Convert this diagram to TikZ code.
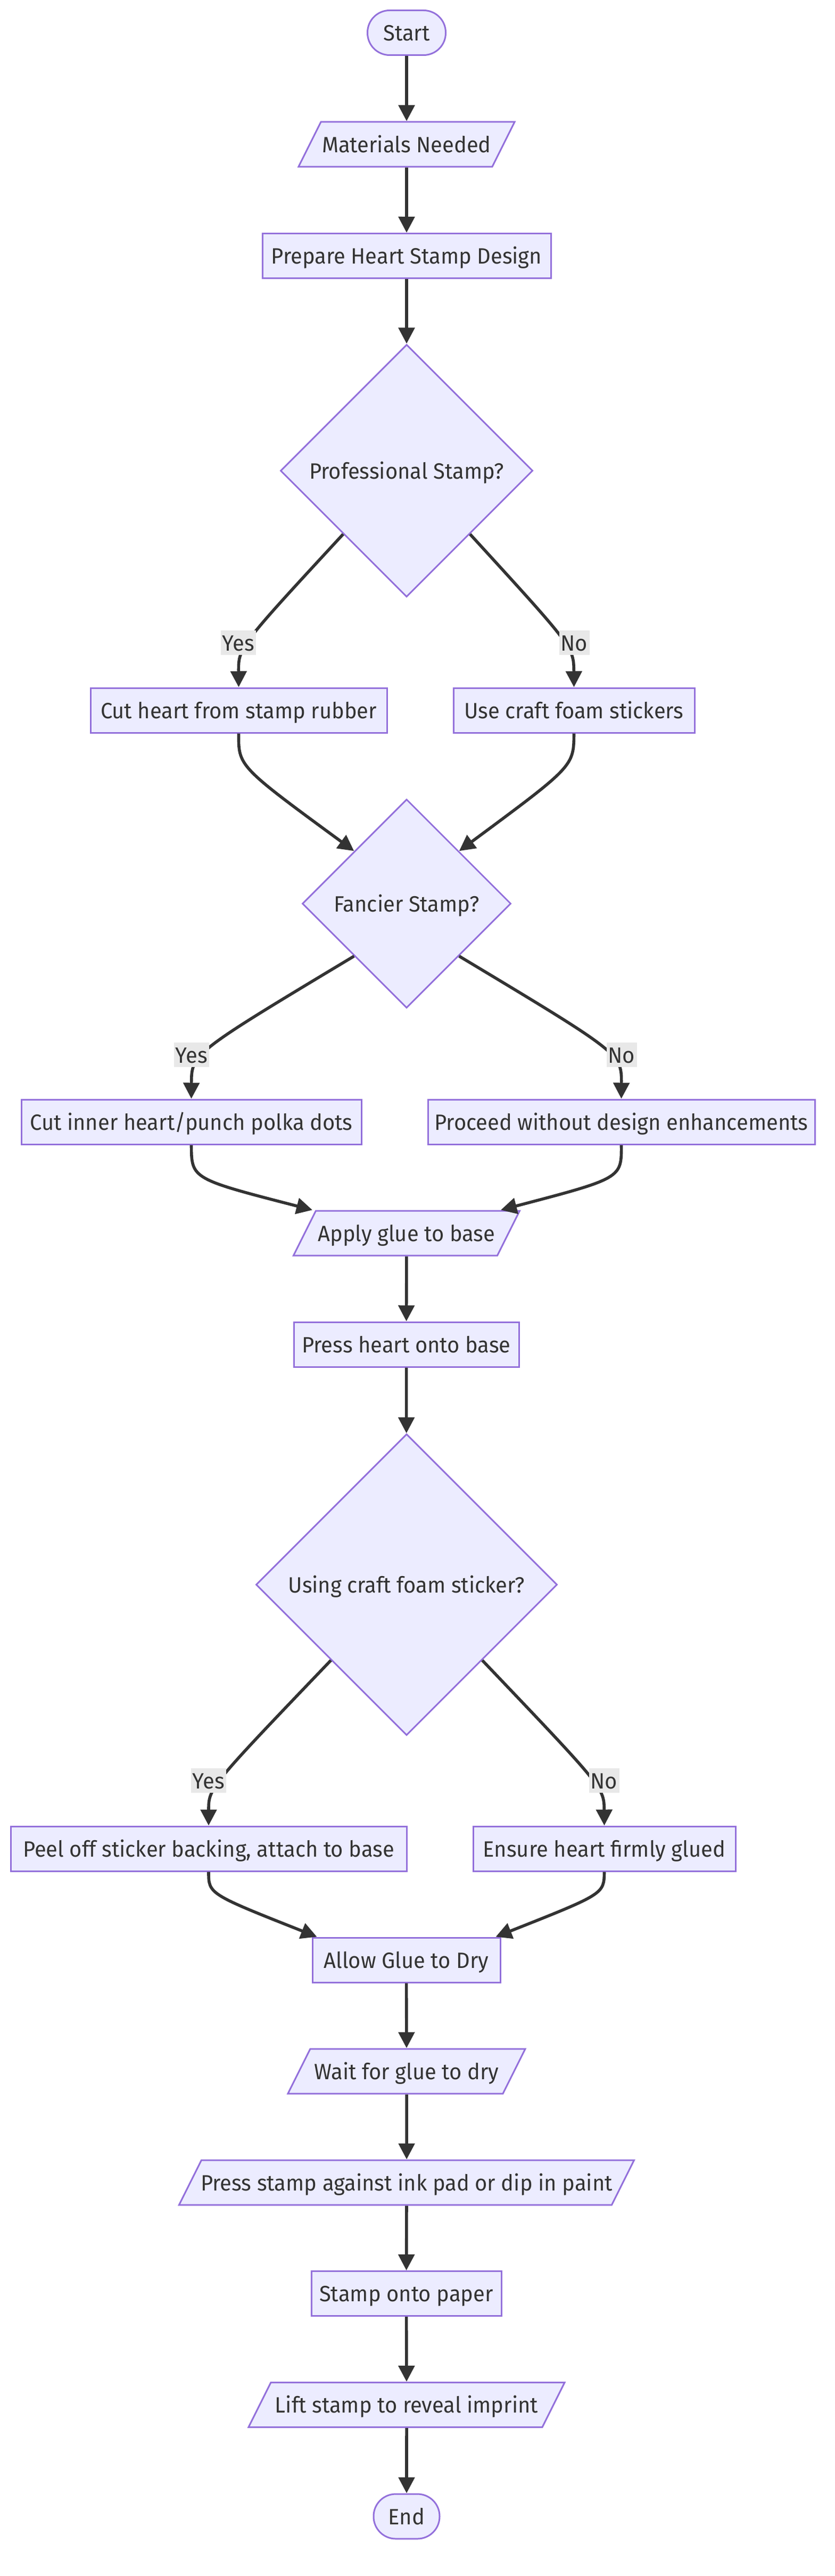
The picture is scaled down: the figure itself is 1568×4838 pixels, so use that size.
\documentclass[tikz,border=0pt]{standalone}
\usepackage{fontspec}
\setmainfont{Fira Sans}[FakeStretch=0.96]
\usetikzlibrary{arrows.meta,shapes.geometric,calc}

\definecolor{boxfill}{HTML}{ECECFF}
\definecolor{boxline}{HTML}{9370DB}
\definecolor{inkline}{HTML}{333333}
\definecolor{tagfill}{HTML}{E8E8E8}

% text of a slanted box, kept on one line
\newcommand{\slanttext}[2]{\makebox[#1]{#2}}

\tikzset{
  base/.style={draw=boxline, fill=boxfill, line width=0.75pt, text=inkline,
    font=\fontsize{10.4}{12.5}\selectfont, inner sep=0pt,
    text height=14.3pt, text depth=6.7pt},
  stepbox/.style={base, rectangle, minimum width=#1},
  iobox/.style={base, trapezium, trapezium left angle=63.43,
    trapezium right angle=116.57},
  decision/.style={base, diamond, minimum width=#1, minimum height=#1},
  terminal/.style={base, rectangle, rounded corners=10.4pt,
    minimum width=#1, minimum height=20.75pt},
  answer/.style={fill=tagfill, text=inkline, font=\fontsize{10.4}{12.5}\selectfont,
    inner xsep=0.8pt, inner ysep=0pt, text height=9.5pt, text depth=2pt},
  flow/.style={draw=inkline, line width=1.4pt,
    -{Triangle[length=7.5pt,width=7.5pt]}}
}

\begin{document}
\begin{tikzpicture}[x=0.25pt, y=-0.25pt]
  \fill[white] (0,0) rectangle (1568,4838);
  \useasboundingbox (0,0) rectangle (1568,4838);

  \node[terminal=36.75pt] (start) at (764,61.5) {Start};
  \node[iobox] (mat) at (764,271) {\slanttext{80.5pt}{Materials Needed}};
  \node[stepbox=135.5pt] (prep) at (764,480.5) {Prepare Heart Stamp Design};
  \node[decision=118.5pt] (prof) at (764,884) {Professional Stamp?};
  \node[stepbox=139.25pt] (cutr) at (448.5,1334) {Cut heart from stamp rubber};
  \node[stepbox=113.25pt] (foam) at (1078.5,1334) {Use craft foam stickers};
  \node[decision=98pt] (fancy) at (764,1697) {Fancier Stamp?};
  \node[stepbox=159.75pt] (inner) at (359.5,2107) {Cut inner heart/punch polka dots};
  \node[stepbox=181.75pt] (plain) at (1167.5,2107) {Proceed without design enhancements};
  \node[iobox] (glue) at (764,2316) {\slanttext{85.25pt}{Apply glue to base}};
  \node[stepbox=105.75pt] (press) at (763.5,2525) {Press heart onto base};
  \node[decision=141.5pt] (using) at (764,2976) {Using craft foam sticker?};
  \node[stepbox=186pt] (peel) at (392,3472) {Peel off sticker backing, attach to base};
  \node[stepbox=123.25pt] (firm) at (1135.5,3472) {Ensure heart firmly glued};
  \node[stepbox=88.25pt] (allow) at (763.5,3681) {Allow Glue to Dry};
  \node[iobox] (wait) at (764,3890) {\slanttext{90.5pt}{Wait for glue to dry}};
  \node[iobox] (ink) at (764,4099) {\slanttext{192.75pt}{Press stamp against ink pad or dip in paint}};
  \node[stepbox=89.25pt] (paper) at (763.5,4307.5) {Stamp onto paper};
  \node[iobox] (lift) at (764,4516.5) {\slanttext{127.5pt}{Lift stamp to reveal imprint}};
  \node[terminal=31pt, minimum height=21pt] (stop) at (764,4726) {End};

  % Straight steps
  \draw[flow] (start) -- (mat);
  \draw[flow] (mat) -- (prep);
  \draw[flow] (prep) -- (prof);
  \draw[flow] (glue) -- (press);
  \draw[flow] (press) -- (using);
  \draw[flow] (allow) -- (wait);
  \draw[flow] (wait) -- (ink);
  \draw[flow] (ink) -- (paper);
  \draw[flow] (paper) -- (lift);
  \draw[flow] (lift) -- (stop);

  % Branches
  \draw[flow] (prof.south west) .. controls (448,1216) and (448,1216) .. (cutr.north);
  \draw[flow] (prof.south east) .. controls (1078,1216) and (1078,1216) .. (foam.north);
  \draw[flow] (cutr.south) .. controls (448,1439) and (448,1439) .. (fancy.north west);
  \draw[flow] (foam.south) .. controls (1078,1439) and (1078,1439) .. (fancy.north east);
  \draw[flow] (fancy.south west) .. controls (360,1979) and (360,1979) .. (inner.north);
  \draw[flow] (fancy.south east) .. controls (1168,1979) and (1168,1979) .. (plain.north);
  \draw[flow] (inner.south) .. controls (360,2214) and (360,2214) .. ($(glue.north)+(-177,0)$);
  \draw[flow] (plain.south) .. controls (1168,2213) and (1168,2213) .. ($(glue.north)+(177,0)$);
  \draw[flow] (using.south west) .. controls (392,3358) and (392,3358) .. (peel.north);
  \draw[flow] (using.south east) .. controls (1135,3358) and (1135,3358) .. (firm.north);
  \draw[flow] (peel.south) .. controls (392,3557) and (392,3557) .. ($(allow.north west)+(10,0)$);
  \draw[flow] (firm.south) .. controls (1135,3557) and (1135,3557) .. ($(allow.north east)+(-10,0)$);

  % Answers
  \node[answer] (yes1) at (448,1207) {Yes};
  \node[answer] (no1) at (1079,1207) {No};
  \node[answer] (yes2) at (360,1981) {Yes};
  \node[answer] (no2) at (1168,1981) {No};
  \node[answer] (yes3) at (392,3344) {Yes};
  \node[answer] (no3) at (1135,3344) {No};
\end{tikzpicture}
\end{document}
